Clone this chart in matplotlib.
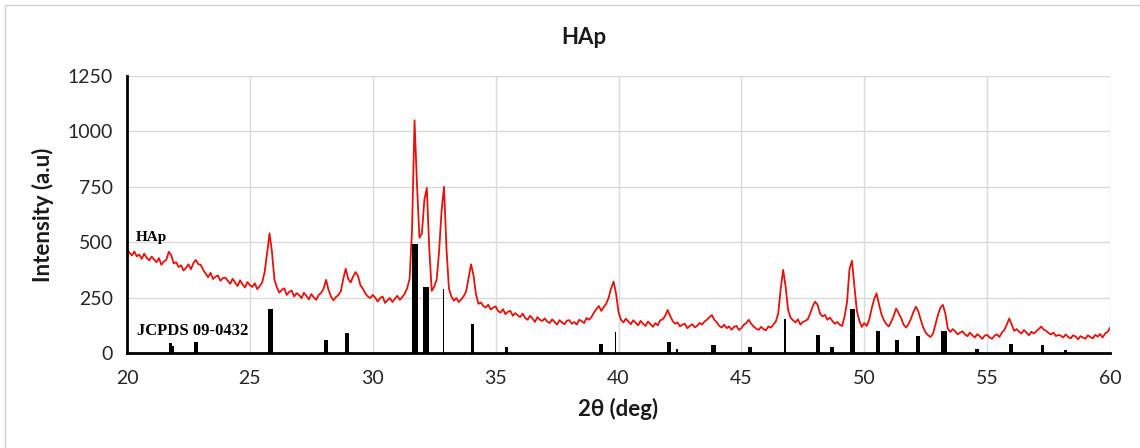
import numpy as np
import matplotlib
matplotlib.use("Agg")
import matplotlib.pyplot as plt
from matplotlib.patches import Rectangle

# XRD scan of HAp at 0.1 deg steps (20.0 .. 60.0)
two_theta = np.round(np.arange(20.0, 60.0001, 0.1), 1)
intensity = [
    468, 452, 440, 458, 436, 444, 425, 448, 430, 418,   # 20
    435, 422, 410, 428, 398, 414, 420, 457, 441, 404,   # 21
    410, 388, 396, 372, 384, 400, 378, 405, 420, 401,   # 22
    398, 376, 358, 342, 362, 334, 344, 350, 326, 338,   # 23
    340, 326, 312, 335, 318, 302, 328, 310, 296, 320,   # 24
    306, 298, 315, 288, 302, 318, 365, 450, 540, 455,   # 25
    330, 296, 272, 285, 292, 262, 276, 282, 255, 270,   # 26
    262, 248, 272, 258, 242, 266, 251, 240, 262, 272,   # 27
    290, 330, 285, 255, 238, 252, 262, 278, 335, 380,   # 28
    335, 318, 345, 365, 348, 305, 290, 268, 255, 248,   # 29
    262, 250, 232, 248, 255, 226, 238, 248, 230, 245,   # 30
    258, 240, 252, 268, 292, 335, 560, 1050, 760, 520,  # 31
    540, 690, 745, 470, 280, 300, 330, 460, 640, 750,   # 32
    470, 290, 255, 236, 248, 230, 242, 256, 278, 340,   # 33
    400, 350, 265, 222, 228, 212, 205, 218, 196, 205,   # 34
    210, 190, 182, 198, 175, 186, 190, 168, 180, 170,   # 35
    162, 178, 158, 150, 168, 156, 140, 162, 150, 145,   # 36
    156, 142, 135, 152, 140, 128, 148, 138, 130, 146,   # 37
    148, 132, 140, 128, 150, 144, 135, 158, 150, 162,   # 38
    182, 198, 212, 190, 208, 222, 250, 292, 322, 268,   # 39
    185, 150, 138, 155, 142, 130, 148, 136, 125, 145,   # 40
    132, 122, 142, 130, 118, 135, 125, 148, 152, 168,   # 41
    194, 168, 145, 132, 138, 120, 128, 132, 112, 122,   # 42
    130, 116, 122, 136, 128, 142, 150, 162, 171, 150,   # 43
    138, 122, 115, 128, 112, 120, 105, 118, 122, 104,   # 44
    112, 128, 135, 150, 132, 120, 110, 104, 118, 108,   # 45
    102, 120, 114, 128, 142, 178, 290, 375, 300, 195,   # 46
    160, 148, 138, 152, 128, 140, 145, 152, 178, 210,   # 47
    232, 218, 178, 165, 172, 150, 160, 145, 132, 140,   # 48
    128, 122, 165, 230, 380, 416, 300, 190, 145, 118,   # 49
    135, 122, 150, 200, 242, 269, 220, 175, 148, 130,   # 50
    120, 142, 168, 201, 180, 158, 128, 115, 130, 155,   # 51
    185, 209, 188, 150, 115, 92, 80, 72, 88, 130,       # 52
    172, 205, 217, 178, 110, 95, 108, 98, 84, 92,       # 53
    98, 84, 76, 92, 80, 70, 85, 76, 64, 78,             # 54
    82, 70, 64, 78, 84, 72, 92, 104, 128, 156,          # 55
    128, 100, 108, 96, 88, 104, 92, 80, 96, 88,         # 56
    98, 108, 119, 106, 100, 90, 84, 92, 76, 82,         # 57
    78, 70, 84, 72, 66, 80, 74, 62, 76, 70,             # 58
    64, 80, 72, 66, 82, 74, 86, 70, 88, 95,             # 59
    113,                                                # 60
]

# JCPDS 09-0432 reference lines
ref_pos = [21.77, 21.85, 22.82, 25.84, 28.08, 28.94, 31.72, 32.17, 32.88, 34.06,
           35.45, 39.28, 39.87, 42.07, 42.37, 43.86, 45.35, 46.78, 48.13, 48.69,
           49.52, 50.55, 51.35, 52.19, 53.24, 54.57, 55.97, 57.24, 58.19]
ref_int = [47, 32, 49, 200, 57, 90, 490, 300, 290, 130,
           28, 39, 96, 48, 16, 34, 28, 152, 80, 26,
           200, 99, 59, 78, 99, 16, 42, 34, 14]
# bar widths (deg): thin sticks, normal, thick
ref_w = [0.15, 0.10, 0.16, 0.18, 0.16, 0.16, 0.22, 0.24, 0.06, 0.16,
         0.14, 0.16, 0.06, 0.16, 0.10, 0.18, 0.14, 0.06, 0.16, 0.14,
         0.22, 0.16, 0.16, 0.16, 0.22, 0.16, 0.16, 0.12, 0.10]

x_ticks = [20, 25, 30, 35, 40, 45, 50, 55, 60]
y_ticks = [0, 250, 500, 750, 1000, 1250]

plt.rcParams['font.family'] = ['Lato', 'DejaVu Sans']

fig = plt.figure(figsize=(11.4, 4.48), dpi=100)
ax = fig.add_axes([127/1140, 1 - 353/448, (1110 - 127)/1140, (353 - 76)/448])

ax.grid(True, color='#d9d9d9', linewidth=1.0, zorder=0)
ax.set_axisbelow(True)

ax.plot(two_theta, intensity, color='#e3120b', linewidth=1.3, zorder=2)
ax.bar(ref_pos, ref_int, width=ref_w, color='black', zorder=3)

ax.set_xlim(20, 60)
ax.set_ylim(0, 1250)
ax.set_xticks(x_ticks)
ax.set_yticks(y_ticks)
ax.tick_params(length=0, labelsize=14, colors='#262626')
ax.tick_params(axis='x', pad=12)
ax.tick_params(axis='y', pad=10)
for s in ['top', 'right']:
    ax.spines[s].set_visible(False)
for s in ['left', 'bottom']:
    ax.spines[s].set_linewidth(2.0)
    ax.spines[s].set_color('black')

ax.set_xlabel('2θ (deg)', fontsize=16, fontweight='bold', labelpad=8, color='#1a1a1a')
ax.set_ylabel('Intensity (a.u)', fontsize=16, fontweight='bold', labelpad=10, color='#1a1a1a')
fig.text(584/1140, 1 - 38/448, 'HAp', ha='center', va='center', fontsize=16,
         fontweight='bold', color='#1a1a1a')

ax.text(20.35, 520, 'HAp', family='Liberation Serif', fontweight='bold', fontsize=11,
        va='center', ha='left')
ax.text(20.4, 100, 'JCPDS 09-0432', family='Liberation Serif', fontweight='bold',
        fontsize=12, va='center', ha='left')

# faint chart-area border
fig.add_artist(Rectangle((5/1140, -0.1), 1.2, 1 - 5/448 + 0.1, transform=fig.transFigure,
                         fill=False, edgecolor='#d0d0d0', linewidth=1.0))

fig.savefig('out.png', dpi=100, facecolor='white')
